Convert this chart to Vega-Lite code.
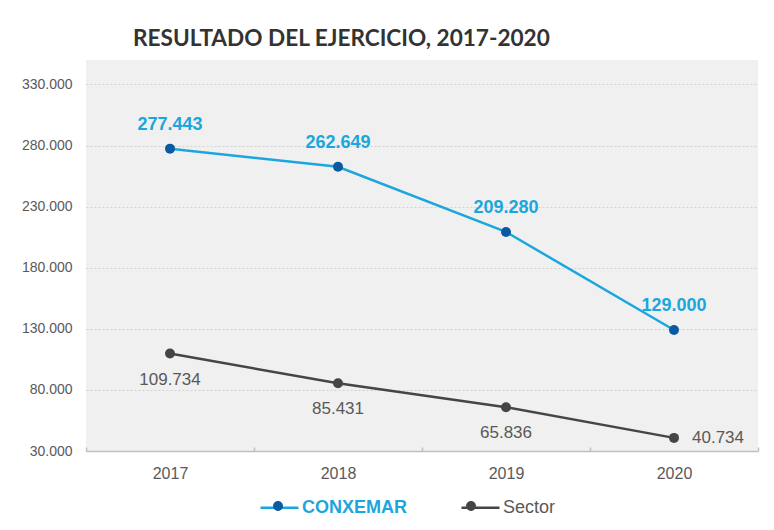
{
  "$schema": "https://vega.github.io/schema/vega-lite/v6.json",
  "width": 672,
  "height": 391,
  "autosize": {"type": "none"},
  "padding": {"left": 86, "top": 60, "right": 16, "bottom": 79},
  "background": "#ffffff",
  "title": {
    "text": "RESULTADO DEL EJERCICIO, 2017-2020",
    "anchor": "start",
    "frame": "group",
    "dx": 47,
    "offset": 9,
    "font": "Lato",
    "fontSize": 22.6,
    "fontWeight": "bold",
    "color": "#333333"
  },
  "data": {
    "values": [
      {"year": "2017", "series": "CONXEMAR", "value": 277443},
      {"year": "2018", "series": "CONXEMAR", "value": 262649},
      {"year": "2019", "series": "CONXEMAR", "value": 209280},
      {"year": "2020", "series": "CONXEMAR", "value": 129000},
      {"year": "2017", "series": "Sector", "value": 109734},
      {"year": "2018", "series": "Sector", "value": 85431},
      {"year": "2019", "series": "Sector", "value": 65836},
      {"year": "2020", "series": "Sector", "value": 40734}
    ]
  },
  "encoding": {
    "x": {
      "field": "year",
      "type": "nominal",
      "scale": {"type": "band", "paddingInner": 0, "paddingOuter": 0},
      "axis": {
        "title": null,
        "labelAngle": 0,
        "labelFont": "Liberation Sans",
        "labelFontSize": 16,
        "labelColor": "#595959",
        "labelPadding": 18,
        "domainColor": "#c0c0c0",
        "domainWidth": 1.5,
        "ticks": true,
        "tickBand": "extent",
        "tickColor": "#c0c0c0",
        "tickWidth": 1.5,
        "tickSize": -4,
        "grid": false
      }
    },
    "y": {
      "field": "value",
      "type": "quantitative",
      "scale": {"domain": [30000, 350000], "nice": false, "zero": false},
      "axis": {
        "title": null,
        "values": [30000, 80000, 130000, 180000, 230000, 280000, 330000],
        "format": ",d",
        "domain": false,
        "ticks": false,
        "grid": true,
        "gridDash": [2, 2],
        "gridColor": "#d2d2d2",
        "gridWidth": 1,
        "labelFont": "Liberation Sans",
        "labelFontSize": 14,
        "labelColor": "#595959",
        "labelPadding": 14
      }
    }
  },
  "layer": [
    {
      "mark": {"type": "line", "strokeWidth": 2.5},
      "encoding": {
        "stroke": {
          "field": "series",
          "type": "nominal",
          "scale": {"range": ["#1ba6dd", "#454545"]},
          "legend": {
            "title": null,
            "orient": "none",
            "legendX": 173,
            "legendY": 427,
            "direction": "horizontal",
            "symbolType": "M-1,0H1",
            "symbolSize": 1444,
            "symbolStrokeWidth": 2.5,
            "labelFont": "Liberation Sans",
            "labelFontSize": 18,
            "labelOffset": 2,
            "columnPadding": 48,
            "labelColor": {"expr": "datum.label == 'CONXEMAR' ? '#1ba6dd' : '#595959'"},
            "labelFontWeight": {"expr": "datum.label == 'CONXEMAR' ? 'bold' : 'normal'"}
          }
        }
      }
    },
    {
      "mark": {"type": "point", "filled": true, "size": 100, "strokeWidth": 0, "opacity": 1},
      "encoding": {
        "fill": {
          "field": "series",
          "type": "nominal",
          "scale": {"domain": ["CONXEMAR", "Sector"], "range": ["#0a5aa3", "#454545"]},
          "legend": {
            "title": null,
            "orient": "none",
            "legendX": 173,
            "legendY": 427,
            "direction": "horizontal",
            "symbolType": "M0.26,0A0.26,0.26 0 1,1 -0.26,0A0.26,0.26 0 1,1 0.26,0Z",
            "symbolSize": 1444,
            "symbolStrokeWidth": 0,
            "symbolOpacity": 1,
            "labelFont": "Liberation Sans",
            "labelFontSize": 18,
            "labelOffset": 2,
            "columnPadding": 153,
            "labelExpr": "''"
          }
        }
      }
    },
    {
      "transform": [{"filter": "datum.series == 'CONXEMAR'"}],
      "mark": {"type": "text", "dy": -24, "font": "Liberation Sans", "fontSize": 18, "fontWeight": "bold", "color": "#1ba6dd"},
      "encoding": {"text": {"field": "value", "type": "quantitative", "format": ",d"}}
    },
    {
      "transform": [{"filter": "datum.series == 'Sector' && datum.year != '2020'"}],
      "mark": {"type": "text", "dy": 26, "font": "Liberation Sans", "fontSize": 17, "color": "#595959"},
      "encoding": {"text": {"field": "value", "type": "quantitative", "format": ",d"}}
    },
    {
      "transform": [{"filter": "datum.series == 'Sector' && datum.year == '2020'"}],
      "mark": {"type": "text", "dx": 18, "align": "left", "font": "Liberation Sans", "fontSize": 17, "color": "#595959"},
      "encoding": {"text": {"field": "value", "type": "quantitative", "format": ",d"}}
    }
  ],
  "config": {
    "locale": {"number": {"decimal": ",", "thousands": ".", "grouping": [3], "currency": ["", " €"]}},
    "view": {"stroke": null, "fill": "#f0f0f0"}
  }
}
